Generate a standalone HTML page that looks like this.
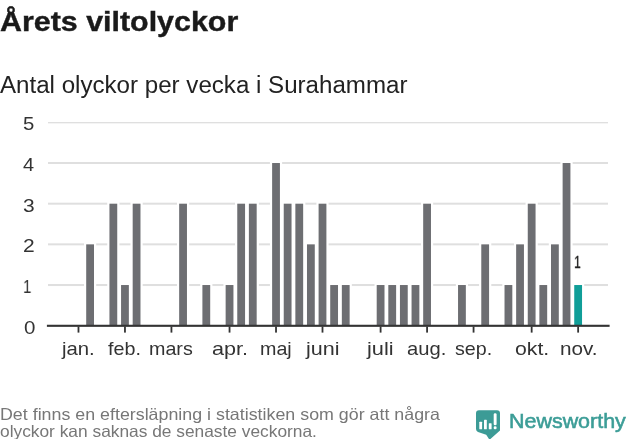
<!DOCTYPE html>
<html><head><meta charset="utf-8">
<style>
html,body{margin:0;padding:0;background:#fff;}
body{width:631px;height:439px;position:relative;overflow:hidden;font-family:"Liberation Sans",sans-serif;color:#333;}
.t{position:absolute;white-space:nowrap;line-height:1;transform-origin:0 0;will-change:transform;}
svg{position:absolute;left:0;top:0;}
</style></head><body>
<svg width="631" height="439" viewBox="0 0 631 439">
<clipPath id="cp"><rect x="48" y="122" width="560" height="210"/></clipPath><g clip-path="url(#cp)">
<rect x="48" y="284.03" width="560" height="2" fill="#dfdfdf"/>
<rect x="48" y="243.36" width="560" height="2" fill="#dfdfdf"/>
<rect x="48" y="202.69" width="560" height="2" fill="#dfdfdf"/>
<rect x="48" y="162.02" width="560" height="2" fill="#dfdfdf"/>
<rect x="48" y="121.35" width="560" height="2" fill="#dfdfdf"/>
</g>
<rect x="84.00" y="242.16" width="12.2" height="83.54" fill="#fff"/>
<rect x="107.24" y="201.49" width="12.2" height="124.21" fill="#fff"/>
<rect x="118.86" y="282.83" width="12.2" height="42.87" fill="#fff"/>
<rect x="130.48" y="201.49" width="12.2" height="124.21" fill="#fff"/>
<rect x="176.96" y="201.49" width="12.2" height="124.21" fill="#fff"/>
<rect x="200.20" y="282.83" width="12.2" height="42.87" fill="#fff"/>
<rect x="223.44" y="282.83" width="12.2" height="42.87" fill="#fff"/>
<rect x="235.06" y="201.49" width="12.2" height="124.21" fill="#fff"/>
<rect x="246.68" y="201.49" width="12.2" height="124.21" fill="#fff"/>
<rect x="269.92" y="160.82" width="12.2" height="164.88" fill="#fff"/>
<rect x="281.54" y="201.49" width="12.2" height="124.21" fill="#fff"/>
<rect x="293.16" y="201.49" width="12.2" height="124.21" fill="#fff"/>
<rect x="304.78" y="242.16" width="12.2" height="83.54" fill="#fff"/>
<rect x="316.40" y="201.49" width="12.2" height="124.21" fill="#fff"/>
<rect x="328.02" y="282.83" width="12.2" height="42.87" fill="#fff"/>
<rect x="339.64" y="282.83" width="12.2" height="42.87" fill="#fff"/>
<rect x="374.50" y="282.83" width="12.2" height="42.87" fill="#fff"/>
<rect x="386.12" y="282.83" width="12.2" height="42.87" fill="#fff"/>
<rect x="397.74" y="282.83" width="12.2" height="42.87" fill="#fff"/>
<rect x="409.36" y="282.83" width="12.2" height="42.87" fill="#fff"/>
<rect x="420.98" y="201.49" width="12.2" height="124.21" fill="#fff"/>
<rect x="455.84" y="282.83" width="12.2" height="42.87" fill="#fff"/>
<rect x="479.08" y="242.16" width="12.2" height="83.54" fill="#fff"/>
<rect x="502.32" y="282.83" width="12.2" height="42.87" fill="#fff"/>
<rect x="513.94" y="242.16" width="12.2" height="83.54" fill="#fff"/>
<rect x="525.56" y="201.49" width="12.2" height="124.21" fill="#fff"/>
<rect x="537.18" y="282.83" width="12.2" height="42.87" fill="#fff"/>
<rect x="548.80" y="242.16" width="12.2" height="83.54" fill="#fff"/>
<rect x="560.42" y="160.82" width="12.2" height="164.88" fill="#fff"/>
<rect x="572.04" y="282.83" width="12.2" height="42.87" fill="#fff"/>
<rect x="86.20" y="244.36" width="7.8" height="81.34" fill="#6d6e72"/>
<rect x="109.44" y="203.69" width="7.8" height="122.01" fill="#6d6e72"/>
<rect x="121.06" y="285.03" width="7.8" height="40.67" fill="#6d6e72"/>
<rect x="132.68" y="203.69" width="7.8" height="122.01" fill="#6d6e72"/>
<rect x="179.16" y="203.69" width="7.8" height="122.01" fill="#6d6e72"/>
<rect x="202.40" y="285.03" width="7.8" height="40.67" fill="#6d6e72"/>
<rect x="225.64" y="285.03" width="7.8" height="40.67" fill="#6d6e72"/>
<rect x="237.26" y="203.69" width="7.8" height="122.01" fill="#6d6e72"/>
<rect x="248.88" y="203.69" width="7.8" height="122.01" fill="#6d6e72"/>
<rect x="272.12" y="163.02" width="7.8" height="162.68" fill="#6d6e72"/>
<rect x="283.74" y="203.69" width="7.8" height="122.01" fill="#6d6e72"/>
<rect x="295.36" y="203.69" width="7.8" height="122.01" fill="#6d6e72"/>
<rect x="306.98" y="244.36" width="7.8" height="81.34" fill="#6d6e72"/>
<rect x="318.60" y="203.69" width="7.8" height="122.01" fill="#6d6e72"/>
<rect x="330.22" y="285.03" width="7.8" height="40.67" fill="#6d6e72"/>
<rect x="341.84" y="285.03" width="7.8" height="40.67" fill="#6d6e72"/>
<rect x="376.70" y="285.03" width="7.8" height="40.67" fill="#6d6e72"/>
<rect x="388.32" y="285.03" width="7.8" height="40.67" fill="#6d6e72"/>
<rect x="399.94" y="285.03" width="7.8" height="40.67" fill="#6d6e72"/>
<rect x="411.56" y="285.03" width="7.8" height="40.67" fill="#6d6e72"/>
<rect x="423.18" y="203.69" width="7.8" height="122.01" fill="#6d6e72"/>
<rect x="458.04" y="285.03" width="7.8" height="40.67" fill="#6d6e72"/>
<rect x="481.28" y="244.36" width="7.8" height="81.34" fill="#6d6e72"/>
<rect x="504.52" y="285.03" width="7.8" height="40.67" fill="#6d6e72"/>
<rect x="516.14" y="244.36" width="7.8" height="81.34" fill="#6d6e72"/>
<rect x="527.76" y="203.69" width="7.8" height="122.01" fill="#6d6e72"/>
<rect x="539.38" y="285.03" width="7.8" height="40.67" fill="#6d6e72"/>
<rect x="551.00" y="244.36" width="7.8" height="81.34" fill="#6d6e72"/>
<rect x="562.62" y="163.02" width="7.8" height="162.68" fill="#6d6e72"/>
<rect x="574.24" y="285.03" width="7.8" height="40.67" fill="#109e98"/>
<rect x="46.9" y="324.75" width="562.7" height="2.1" fill="#333"/>
<rect x="77.58" y="326.5" width="1.8" height="6.1" fill="#333"/>
<rect x="124.06" y="326.5" width="1.8" height="6.1" fill="#333"/>
<rect x="170.54" y="326.5" width="1.8" height="6.1" fill="#333"/>
<rect x="228.64" y="326.5" width="1.8" height="6.1" fill="#333"/>
<rect x="275.12" y="326.5" width="1.8" height="6.1" fill="#333"/>
<rect x="321.60" y="326.5" width="1.8" height="6.1" fill="#333"/>
<rect x="379.70" y="326.5" width="1.8" height="6.1" fill="#333"/>
<rect x="426.18" y="326.5" width="1.8" height="6.1" fill="#333"/>
<rect x="472.66" y="326.5" width="1.8" height="6.1" fill="#333"/>
<rect x="530.76" y="326.5" width="1.8" height="6.1" fill="#333"/>
<rect x="577.24" y="326.5" width="1.8" height="6.1" fill="#333"/>
<path d="M479 410.3 H497 Q500 410.3 500 413.3 V430.6 L489.5 439.8 L486.2 434.7 L478 431.9 Q476 431.2 476 429 V413.3 Q476 410.3 479 410.3 Z" fill="#3c9b96"/>
<rect x="479.3" y="421.7" width="2.8" height="7.6" rx="0.6" fill="#fff"/>
<rect x="484.0" y="419.7" width="2.8" height="9.6" rx="0.6" fill="#fff"/>
<rect x="488.8" y="423.2" width="2.8" height="6.1" rx="0.6" fill="#fff"/>
<rect x="493.7" y="413.2" width="2.9" height="12" rx="1.3" fill="#fff"/>
<rect x="493.7" y="426.3" width="2.9" height="3" rx="1.3" fill="#fff"/>
</svg>
<div class="t" style="left:-0.08px;top:7.76px;font-size:27.5px;font-weight:bold;-webkit-text-stroke:0.4px #1a1a1a;color:#1a1a1a;transform:scaleX(1.1054)">Årets viltolyckor</div>
<div class="t" style="left:-0.00px;top:73.70px;font-size:23.5px;color:#222;transform:scaleX(1.0263)">Antal olyckor per vecka i Surahammar</div>
<div class="t" style="left:0.44px;top:405.50px;font-size:16.5px;color:#777;transform:scaleX(1.0803)">Det finns en eftersläpning i statistiken som gör att några</div>
<div class="t" style="left:0.15px;top:423.30px;font-size:16.5px;color:#777;transform:scaleX(1.0503)">olyckor kan saknas de senaste veckorna.</div>
<div class="t" style="left:508.93px;top:411.97px;font-size:19.5px;-webkit-text-stroke:0.55px #3c9d97;color:#3c9d97;transform:scaleX(1.0999)">Newsworthy</div>
<div class="t" style="left:574.18px;top:255.28px;font-size:16px;-webkit-text-stroke:0.3px #222;color:#222;transform:scaleX(0.7643)">1</div>
<div class="t" style="left:62.01px;top:339.50px;font-size:18.5px;color:#333;transform:scaleX(1.0977)">jan.</div>
<div class="t" style="left:107.92px;top:339.50px;font-size:18.5px;color:#333;transform:scaleX(1.0667)">feb.</div>
<div class="t" style="left:149.19px;top:339.50px;font-size:18.5px;color:#333;transform:scaleX(1.0644)">mars</div>
<div class="t" style="left:212.18px;top:339.50px;font-size:18.5px;color:#333;transform:scaleX(1.1668)">apr.</div>
<div class="t" style="left:259.89px;top:339.50px;font-size:18.5px;color:#333;transform:scaleX(1.0646)">maj</div>
<div class="t" style="left:305.53px;top:339.50px;font-size:18.5px;color:#333;transform:scaleX(1.1653)">juni</div>
<div class="t" style="left:366.83px;top:339.50px;font-size:18.5px;color:#333;transform:scaleX(1.1771)">juli</div>
<div class="t" style="left:407.35px;top:339.50px;font-size:18.5px;color:#333;transform:scaleX(1.0911)">aug.</div>
<div class="t" style="left:454.58px;top:339.50px;font-size:18.5px;color:#333;transform:scaleX(1.0628)">sep.</div>
<div class="t" style="left:514.64px;top:339.50px;font-size:18.5px;color:#333;transform:scaleX(1.1460)">okt.</div>
<div class="t" style="left:559.74px;top:339.50px;font-size:18.5px;color:#333;transform:scaleX(1.1182)">nov.</div>
<div class="t" style="left:23.66px;top:318.80px;font-size:18px;color:#333;transform:scaleX(1.1398)">0</div>
<div class="t" style="left:23.38px;top:278.08px;font-size:18px;color:#333;transform:scaleX(0.8340)">1</div>
<div class="t" style="left:22.85px;top:237.36px;font-size:18px;color:#333;transform:scaleX(1.1664)">2</div>
<div class="t" style="left:22.88px;top:196.64px;font-size:18px;color:#333;transform:scaleX(1.1629)">3</div>
<div class="t" style="left:23.17px;top:155.92px;font-size:18px;color:#333;transform:scaleX(1.1048)">4</div>
<div class="t" style="left:22.84px;top:115.20px;font-size:18px;color:#333;transform:scaleX(1.1288)">5</div>
</body></html>
